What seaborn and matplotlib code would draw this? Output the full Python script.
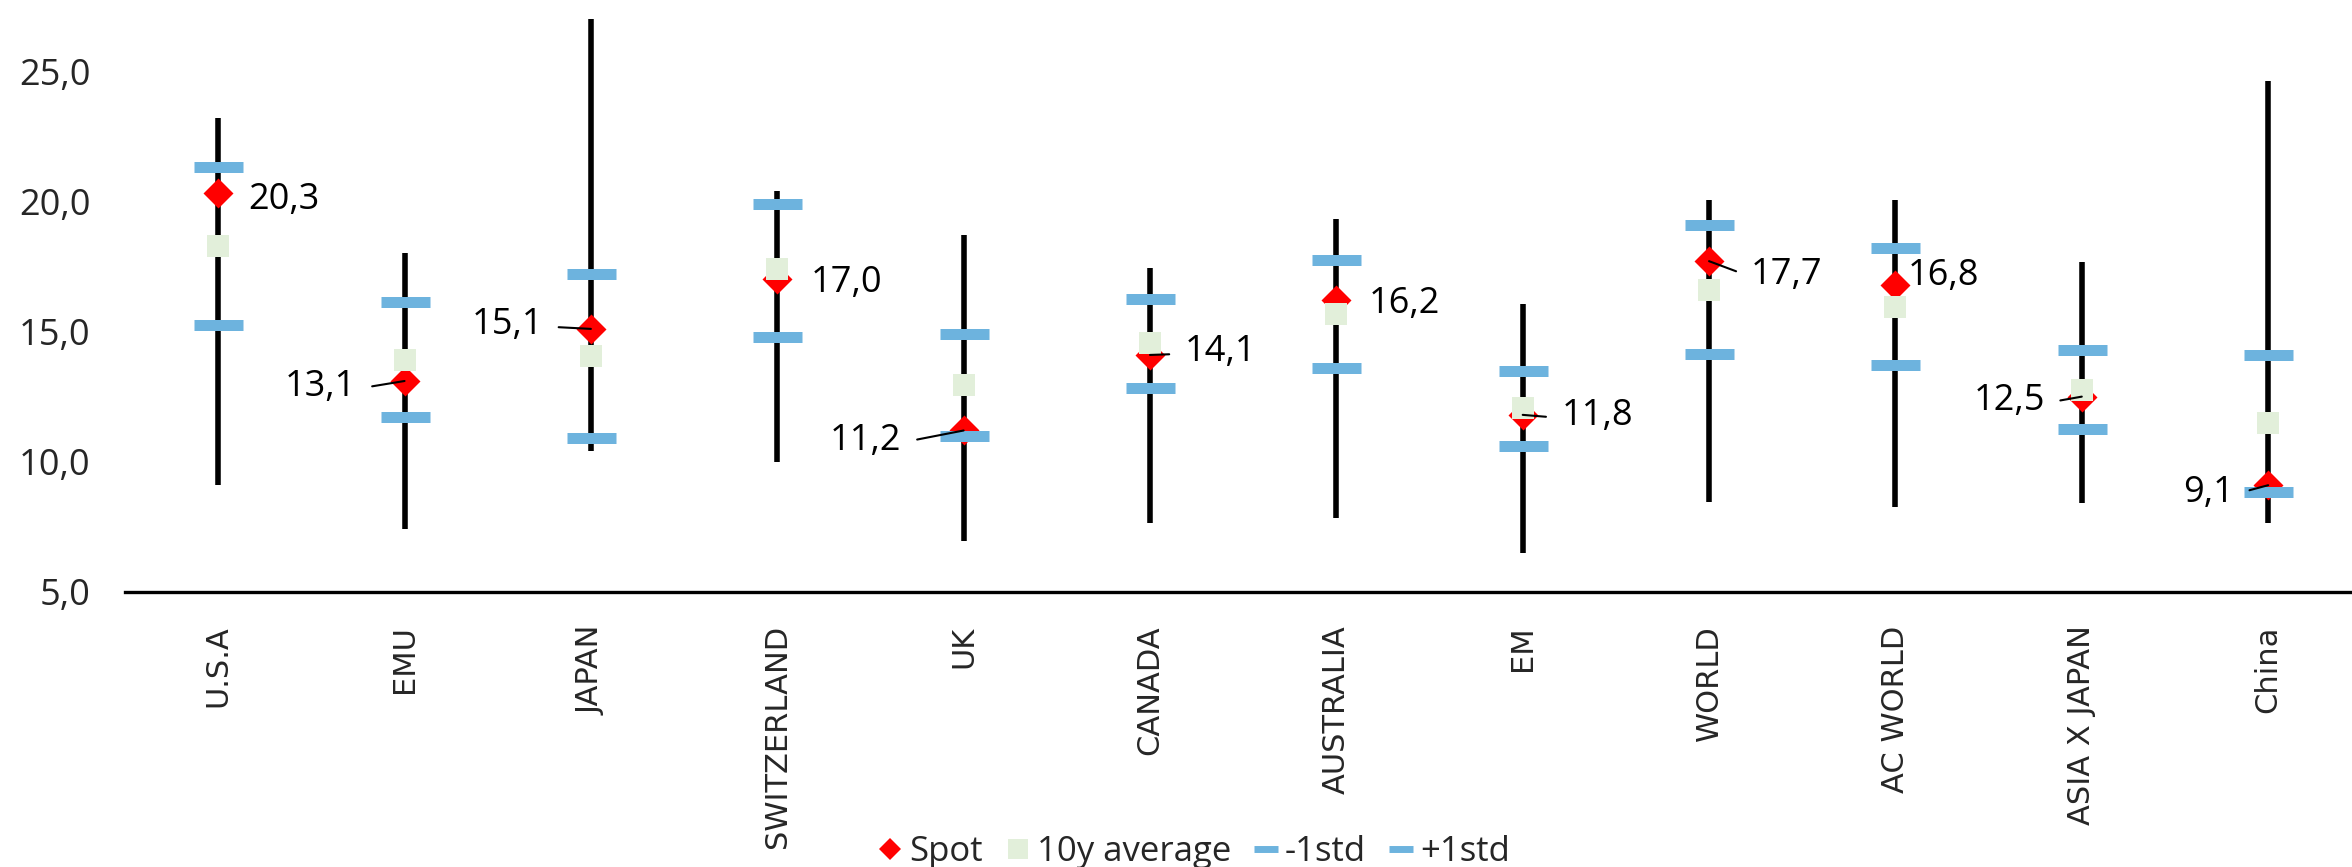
import matplotlib
matplotlib.use("Agg")
import matplotlib.pyplot as plt
from matplotlib.lines import Line2D
import seaborn as sns
import pandas as pd

# ---------------- data ----------------
categories = ["U.S.A", "EMU", "JAPAN", "SWITZERLAND", "UK", "CANADA",
              "AUSTRALIA", "EM", "WORLD", "AC WORLD", "ASIA X JAPAN", "China"]
spot = [20.3, 13.1, 15.1, 17.0, 11.2, 14.1, 16.2, 11.8, 17.7, 16.8, 12.5, 9.1]
avg10 = [18.3, 13.9, 14.05, 17.4, 12.95, 14.55, 15.67, 12.08, 16.6, 15.94, 12.76, 11.47]
minus1 = [15.26, 11.7, 10.9, 14.8, 11.0, 12.85, 13.58, 10.6, 14.15, 13.7, 11.26, 8.85]
plus1 = [21.3, 16.15, 17.2, 19.9, 14.9, 16.24, 17.76, 13.48, 19.1, 18.2, 14.3, 14.08]
high = [23.2, 18.0, 27.0, 20.4, 18.7, 17.45, 19.33, 16.05, 20.06, 20.06, 17.65, 24.6]
low = [9.1, 7.4, 10.4, 10.0, 6.95, 7.65, 7.83, 6.5, 8.47, 8.26, 8.4, 7.64]
yticks = [5, 10, 15, 20, 25]
legend_labels = ["Spot", "10y average", "-1std", "+1std"]

# ---------------- layout of the value labels (pixels / value units) ----------------
# (horizontal alignment, x offset px, digit-centre offset in value units, leader line)
label_layout = [
    ("left", 30, -0.10, False),
    ("right", -48, -0.10, True),
    ("right", -48, 0.30, True),
    ("left", 33, 0.00, False),
    ("right", -62, -0.26, True),
    ("left", 35, 0.25, True),
    ("left", 32, 0.00, False),
    ("left", 39, 0.08, True),
    ("left", 42, -0.40, True),
    ("left", 12, 0.46, False),
    ("right", -37, -0.05, True),
    ("right", -34, -0.15, True),
]

RED = "#FF0000"
GREEN = "#E2EFDA"
BLUE = "#6DB3DE"

df = pd.DataFrame({"cat": categories, "spot": spot, "avg": avg10,
                   "m1": minus1, "p1": plus1, "hi": high, "lo": low})

sns.set_style("white")
plt.rcParams["font.family"] = ["Open Sans", "DejaVu Sans"]

W, H, DPI = 2352, 867, 100
fig = plt.figure(figsize=(W / DPI, H / DPI), dpi=DPI)
left_px, bottom_px = 125, 592
ax = fig.add_axes([left_px / W, 1 - bottom_px / H, 1 - left_px / W, bottom_px / H])

px_per_unit = 26.05
PT = 72 / DPI  # points per pixel

# high-low lines
ax.vlines(df["cat"], df["lo"], df["hi"], colors="black", lw=4, zorder=1)

# markers via seaborn
sns.scatterplot(data=df, x="cat", y="spot", marker="D", s=(21.2 * PT) ** 2,
                color=RED, linewidth=0, zorder=3, ax=ax, legend=False)
sns.scatterplot(data=df, x="cat", y="avg", marker="s", s=(22 * PT) ** 2,
                color=GREEN, linewidth=0, zorder=4, ax=ax, legend=False)
for col in ["m1", "p1"]:
    sns.scatterplot(data=df, x="cat", y=col, marker="_", s=(49 * PT) ** 2,
                    color=BLUE, linewidths=11 * PT, zorder=5, ax=ax, legend=False)

# value labels
for i, (val, (ha, dx, dy, leader)) in enumerate(zip(spot, label_layout)):
    txt = f"{val:.1f}".replace(".", ",")
    off_y_px = dy * px_per_unit - 12.5
    kw = {}
    if leader:
        kw["arrowprops"] = dict(arrowstyle="-", color="black", lw=1.5,
                                shrinkA=9, shrinkB=0,
                                relpos=(1, 0.45) if ha == "right" else (0, 0.45))
    ax.annotate(txt, xy=(i, val), xytext=(dx * PT, off_y_px * PT),
                textcoords="offset points", ha=ha, va="baseline",
                fontsize=26, color="black", zorder=6, **kw)

# axes styling
ax.set_xlim(-0.5, 11.45)
ax.set_ylim(5, 5 + bottom_px / px_per_unit)
ax.set_yticks(yticks)
ax.set_yticklabels([f"{v:.1f}".replace(".", ",") for v in yticks], fontsize=26)
ax.set_xticks(range(len(categories)))
ax.set_xticklabels(categories, rotation=90, fontsize=22, family="DejaVu Sans",
                   ha="center", va="top")
ax.tick_params(axis="y", length=0, pad=25)
ax.tick_params(axis="x", length=0, pad=24)
ax.set_xlabel("")
ax.set_ylabel("")
for s in ["left", "top", "right"]:
    ax.spines[s].set_visible(False)
ax.spines["bottom"].set_color("black")
ax.spines["bottom"].set_linewidth(2.4)
ax.grid(False)

handles = [
    Line2D([], [], ls="none", marker="D", color=RED, ms=11, mew=0),
    Line2D([], [], ls="none", marker="s", color=GREEN, ms=15, mew=0),
    Line2D([], [], ls="none", marker="_", color=BLUE, ms=17, mew=5),
    Line2D([], [], ls="none", marker="_", color=BLUE, ms=17, mew=5),
]
fig.legend(handles, legend_labels, loc="center", bbox_to_anchor=(0.508, 0.017),
           ncol=4, frameon=False, fontsize=25, handlelength=0.6,
           handletextpad=0.25, columnspacing=0.7, borderpad=0, borderaxespad=0)

fig.savefig("out.png", dpi=DPI)
